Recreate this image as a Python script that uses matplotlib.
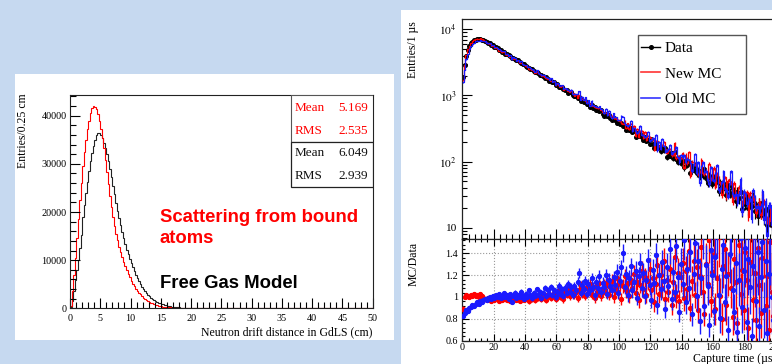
import numpy as np
import matplotlib
matplotlib.use("Agg")
import matplotlib.pyplot as plt
from matplotlib.patches import Rectangle
from matplotlib.lines import Line2D
from matplotlib.ticker import MultipleLocator, FixedLocator, FuncFormatter, LogLocator, NullFormatter

plt.rcParams['font.family'] = ['Liberation Serif', 'DejaVu Serif']
plt.rcParams['mathtext.fontset'] = 'stix'

# ---- left: neutron drift distance, entries per 0.25 cm bin (from 0 cm) ----
bin_w = 0.25
bound_atoms = [500, 3500, 7000, 10500, 14500, 18500, 22500, 26000, 29500, 32500,
               35000, 37200, 39000, 40500, 41500, 42000, 41900, 41300, 40300, 39000,
               37300, 35400, 33200, 30800, 28300, 25800, 23400, 21100, 19000, 17100,
               15500, 14100, 12800, 11650, 10600, 9650, 8750, 7900, 7100, 6400,
               5750, 5150, 4600, 4100, 3650, 3240, 2870, 2540, 2240, 1970,
               1730, 1510, 1320, 1150, 1000, 870, 755, 655, 565, 490,
               422, 363, 312, 268, 230, 197, 169, 145, 124, 106,
               91, 78, 67, 57, 49, 42, 36, 31, 26, 22,
               19, 16, 14, 12, 10, 8, 7, 6, 5, 4, 4, 3, 3, 2, 2, 2, 2, 1, 1, 1]
free_gas = [200, 1500, 3500, 5800, 7900, 10000, 12600, 15300, 19000, 21500,
            24000, 26300, 28500, 30500, 32300, 33800, 35000, 35900, 36500, 36400,
            36000, 35300, 34400, 33300, 32000, 30600, 29000, 27300, 25500, 23700,
            21900, 20200, 18700, 17200, 15800, 14500, 13300, 12200, 11200, 10300,
            9400, 8550, 7750, 7000, 6300, 5650, 5050, 4500, 4000, 3550,
            3150, 2800, 2480, 2200, 1950, 1730, 1530, 1350, 1190, 1050,
            920, 810, 710, 620, 540, 470, 410, 355, 308, 267,
            231, 200, 173, 150, 129, 111, 96, 83, 71, 61,
            52, 45, 38, 33, 28, 24, 20, 17, 14, 12, 10, 8, 7, 6, 5, 4, 3, 3, 2, 2]
stats_bound = ["5.169", "2.535"]
stats_free = ["6.049", "2.939"]

# ---- right: capture time, entries per 1 us bin (from 0 us) ----
data_counts = [1890, 2900, 4000, 4900, 5600, 6100, 6500, 6800, 7000, 7100,
               7120, 7080, 6980, 6850, 6680, 6495, 6195, 6138, 5840, 5700,
               5381, 5348, 5131, 4914, 4891, 4609, 4544, 4271, 4208, 4052,
               3961, 3704, 3719, 3551, 3394, 3391, 3196, 3130, 2957, 2993,
               2786, 2736, 2575, 2550, 2506, 2370, 2264, 2274, 2177, 2019,
               2024, 1980, 1859, 1878, 1759, 1657, 1666, 1584, 1574, 1458,
               1463, 1337, 1362, 1347, 1250, 1198, 1209, 1094, 1113, 1119,
               1019, 969, 987, 930, 942, 826, 859, 802, 818, 737,
               749, 663, 707, 650, 674, 595, 609, 577, 601, 528,
               494, 528, 490, 507, 450, 425, 452, 421, 377, 402,
               369, 389, 339, 349, 300, 335, 305, 324, 275, 287,
               237, 272, 242, 263, 234, 210, 236, 207, 212, 186,
               217, 182, 160, 182, 159, 167, 144, 165, 148, 159,
               116, 139, 123, 134, 112, 139, 111, 98, 113, 96,
               103, 82, 103, 88, 98, 68, 86, 75, 88, 67,
               73, 60, 73, 63, 76, 56, 48, 61, 57, 46,
               58, 47, 56, 36, 47, 39, 48, 40, 31, 42,
               34, 44, 30, 35, 25, 35, 28, 35, 19, 29,
               23, 30, 20, 25, 21, 29, 18, 21, 15, 23,
               18, 24, 15, 19, 11, 18, 14, 11, 18, 12]
new_mc_ratio = [0.89, 1.00, 1.02, 1.01, 1.00, 1.02, 1.01, 1.03, 1.01, 1.02,
                1.00, 1.03, 1.01, 0.99, 0.98, 0.97, 0.99, 0.98, 0.96, 0.98,
                0.97, 0.99, 0.98, 0.96, 0.98, 0.97, 1.00, 0.98, 0.97, 0.99,
                0.96, 0.98, 0.97, 1.00, 0.97, 0.99, 0.96, 0.98, 1.00, 0.97,
                0.99, 0.98, 0.96, 1.00, 0.98, 1.00, 0.97, 1.01, 0.99, 1.03,
                0.98, 1.00, 1.02, 0.97, 1.01, 1.03, 0.99, 1.01, 1.04, 0.98,
                1.02, 1.06, 1.00, 1.03, 0.98, 1.05, 1.02, 1.08, 1.01, 1.04,
                1.07, 1.02, 1.05, 0.99, 1.06, 1.10, 1.03, 1.07, 1.01, 1.09,
                1.04, 1.12, 1.02, 1.08, 0.99, 1.10, 1.05, 1.13, 1.01, 1.07,
                1.11, 1.04, 1.14, 1.02, 1.09, 1.15, 1.00, 1.08, 1.17, 1.05,
                1.12, 0.98, 1.10, 1.19, 1.06, 1.13, 1.01, 1.16, 1.08, 1.21,
                1.04, 1.14, 0.97, 1.11, 1.24, 1.07, 1.18, 1.02, 1.15, 1.26,
                1.06, 1.17, 0.95, 1.12, 1.29, 1.03, 1.20, 1.08, 1.33, 0.98,
                1.16, 1.05, 1.26, 0.93, 1.14, 1.37, 1.01, 1.22, 0.96, 1.18,
                1.31, 0.99, 1.24, 1.07, 1.42, 0.90, 1.15, 1.33, 1.02, 1.27,
                0.88, 1.19, 1.46, 1.05, 0.84, 1.30, 1.12, 1.52, 0.96, 1.23,
                1.38, 0.89, 1.17, 1.55, 1.01, 0.80, 1.28, 1.44, 0.93, 1.21,
                1.60, 1.08, 0.82, 1.35, 1.14, 0.76, 1.48, 1.03, 1.25, 0.88,
                1.41, 1.16, 0.72, 1.32, 1.57, 0.97, 1.22, 0.79, 1.45, 1.11,
                0.85, 1.36, 1.63, 0.92, 1.19, 0.70, 1.50, 1.05, 0.83, 1.29]
old_mc_ratio = [0.83, 0.85, 0.88, 0.87, 0.90, 0.91, 0.93, 0.92, 0.94, 0.95,
                0.94, 0.96, 0.95, 0.97, 0.98, 0.97, 0.99, 1.00, 0.98, 1.01,
                0.99, 1.02, 1.00, 1.03, 0.99, 1.01, 1.04, 1.00, 1.02, 0.98,
                1.03, 0.95, 1.01, 1.04, 0.99, 1.02, 1.00, 1.05, 1.01, 0.98,
                1.03, 1.00, 1.06, 1.02, 0.99, 1.04, 1.01, 1.07, 1.02, 1.05,
                0.99, 1.04, 1.08, 1.01, 1.06, 1.03, 1.09, 1.02, 1.06, 1.00,
                1.05, 1.10, 1.03, 1.07, 1.01, 1.08, 1.04, 1.12, 1.05, 1.09,
                1.02, 1.10, 1.06, 1.14, 1.22, 1.04, 1.11, 1.07, 1.15, 1.03,
                1.12, 1.06, 1.17, 1.09, 1.02, 1.14, 1.08, 1.19, 1.05, 1.13,
                1.09, 1.20, 1.03, 1.16, 1.10, 1.06, 1.18, 1.11, 1.23, 1.04,
                1.15, 1.27, 1.40, 1.09, 1.21, 1.02, 1.17, 1.28, 1.06, 1.14,
                1.24, 0.99, 1.19, 1.31, 1.08, 1.22, 1.01, 1.16, 1.34, 1.11,
                0.97, 1.25, 1.13, 1.38, 0.93, 1.20, 1.07, 1.32, 1.15, 0.89,
                1.27, 1.10, 1.44, 0.98, 1.23, 1.05, 1.47, 1.18, 0.86, 1.30,
                1.12, 1.52, 0.95, 1.26, 1.08, 1.41, 0.84, 1.21, 1.49, 1.01,
                1.33, 0.78, 1.17, 1.56, 0.92, 1.29, 1.10, 0.74, 1.43, 1.20,
                0.87, 1.37, 1.58, 1.02, 0.81, 1.26, 1.48, 0.95, 1.19, 0.70,
                1.39, 1.62, 1.06, 0.86, 1.31, 0.68, 1.16, 1.54, 0.91, 1.24,
                1.45, 0.77, 1.35, 1.09, 0.64, 1.28, 1.60, 0.96, 1.41, 0.73,
                1.18, 1.50, 0.88, 1.33, 0.67, 1.21, 1.56, 1.00, 0.79, 1.38]
legend_labels = ["Data", "New MC", "Old MC"]

W, H = 772, 364
fig = plt.figure(figsize=(W / 100, H / 100), dpi=100)
fig.patch.set_facecolor('#c6d9f0')


def fx(px):
    return px / W


def fy(py):
    return 1 - py / H


# white slide panels
fig.add_artist(Rectangle((fx(15), fy(340)), fx(394 - 15), (340 - 74) / H,
                         transform=fig.transFigure, facecolor='white', edgecolor='none', zorder=-5))
fig.add_artist(Rectangle((fx(401), fy(370)), fx(380), (370 - 10) / H,
                         transform=fig.transFigure, facecolor='white', edgecolor='none', zorder=-5))

tick_fs = 7.3
title_fs = 8.5

# ================= left histogram =================
ax1 = fig.add_axes([fx(70), fy(308.3), fx(302.7), 213.3 / H])
nbins = int(50 / bin_w)
edges = np.arange(nbins + 1) * bin_w
h_bound = np.zeros(nbins)
h_bound[:len(bound_atoms)] = bound_atoms
h_free = np.zeros(nbins)
h_free[:len(free_gas)] = free_gas
ax1.stairs(h_free, edges, color='#222222', lw=0.8)
ax1.stairs(h_bound, edges, color='#ff0000', lw=0.8)
ax1.set_xlim(0, 50)
ax1.set_ylim(0, 44300)
ax1.xaxis.set_major_locator(MultipleLocator(5))
ax1.xaxis.set_minor_locator(MultipleLocator(1))
ax1.yaxis.set_major_locator(MultipleLocator(10000))
ax1.yaxis.set_minor_locator(MultipleLocator(2000))
ax1.tick_params(which='both', direction='in', top=False, right=False, labelsize=tick_fs)
ax1.tick_params(which='major', length=7, width=0.8)
ax1.tick_params(which='minor', length=4, width=0.8)
ax1.tick_params(axis='x', pad=4)
ax1.tick_params(axis='y', pad=2.5)
for s in ax1.spines.values():
    s.set_linewidth(0.8)
    s.set_color('#222222')

# stats boxes
ax1.add_patch(Rectangle((0.730, 0.7797), 0.270, 0.2203, transform=ax1.transAxes,
                        facecolor='white', edgecolor='#555555', lw=0.8, zorder=3))
ax1.add_patch(Rectangle((0.730, 0.5687), 0.270, 0.2110, transform=ax1.transAxes,
                        facecolor='white', edgecolor='#222222', lw=0.9, zorder=3))
rows = [("Mean", stats_bound[0], '#ff0000', 0.939), ("RMS", stats_bound[1], '#ff0000', 0.831),
        ("Mean", stats_free[0], '#111111', 0.728), ("RMS", stats_free[1], '#111111', 0.620)]
for name, val, col, yy in rows:
    ax1.text(0.7433, yy, name, transform=ax1.transAxes, color=col, fontsize=9.5,
             ha='left', va='center', zorder=4)
    ax1.text(0.9855, yy, val, transform=ax1.transAxes, color=col, fontsize=9.5,
             ha='right', va='center', zorder=4)

fig.text(fx(23), fy(93), "Entries/0.25 cm", rotation=90, ha='center', va='top', fontsize=title_fs)
fig.text(fx(372.7), fy(332), "Neutron drift distance in GdLS (cm)", ha='right', va='center',
         fontsize=title_fs)

bold = dict(family=['Liberation Sans', 'DejaVu Sans'], fontweight='bold', fontsize=13.3)
fig.text(fx(160), fy(221.7), "Scattering from bound", color='#ff0000', va='baseline', **bold)
fig.text(fx(160), fy(243.3), "atoms", color='#ff0000', va='baseline', **bold)
fig.text(fx(160), fy(288.3), "Free Gas Model", color='black', va='baseline', **bold)

# ================= right: capture time =================
t = np.arange(len(data_counts)) + 0.5
D = np.array(data_counts, dtype=float)
r_new = np.array(new_mc_ratio)
r_old = np.array(old_mc_ratio)
M_new = D * r_new
M_old = D * r_old
mc_scale = 4.0  # MC has more statistics than data

ax2 = fig.add_axes([fx(462.3), fy(239.3), fx(313.5), 220 / H])
ax3 = fig.add_axes([fx(462.3), fy(340.7), fx(313.5), 101.4 / H], sharex=ax2)

ax2.errorbar(t, D, yerr=np.sqrt(D), fmt='o', ms=2.6, color='black', elinewidth=0.9,
             capsize=0, zorder=2)
ax2.errorbar(t, M_new, yerr=np.sqrt(M_new / mc_scale), fmt='none', ecolor='#ff0000',
             elinewidth=0.9, zorder=3)
ax2.step(t, M_new, where='mid', color='#ff0000', lw=0.9, zorder=3)
ax2.errorbar(t, M_old, yerr=np.sqrt(M_old / mc_scale), fmt='none', ecolor='#1a1aff',
             elinewidth=0.9, zorder=4)
ax2.step(t, M_old, where='mid', color='#1a1aff', lw=0.9, zorder=4)
ax2.set_yscale('log')
ax2.set_xlim(0, 200)
ax2.set_ylim(6.67, 14160)
ax2.yaxis.set_major_locator(LogLocator(base=10, numticks=10))
ax2.yaxis.set_minor_locator(LogLocator(base=10, subs=np.arange(2, 10), numticks=10))
ax2.yaxis.set_major_formatter(FuncFormatter(
    lambda v, p: "10" if abs(v - 10) < 1e-6 else r"$10^{%d}$" % round(np.log10(v))))
ax2.yaxis.set_minor_formatter(NullFormatter())
ax2.xaxis.set_major_locator(MultipleLocator(20))
ax2.xaxis.set_minor_locator(MultipleLocator(4))
ax2.tick_params(which='both', direction='in', top=False, right=False, labelsize=tick_fs,
                labelbottom=False)
ax2.tick_params(axis='y', labelsize=8.2, pad=4)
ax2.tick_params(which='major', length=7, width=0.8)
ax2.tick_params(which='minor', length=3.5, width=0.8)

# legend with a square ROOT-like frame
handles = [Line2D([], [], color='black', marker='o', ms=2.6, lw=1.0),
           Line2D([], [], color='#ff3333', lw=1.2),
           Line2D([], [], color='#3333ff', lw=1.2)]
ax2.add_patch(Rectangle((fx(638.3), fy(114.3)), fx(745.7 - 638.3), (114.3 - 35) / H,
                        transform=fig.transFigure, facecolor='white', edgecolor='#555555',
                        lw=1.0, zorder=8, clip_on=False))
leg = ax2.legend(handles, legend_labels, loc='upper left', bbox_to_anchor=(fx(641), fy(41.5)),
                 bbox_transform=fig.transFigure, frameon=False, fontsize=11,
                 handlelength=1.25, handletextpad=0.3, labelspacing=0.78, borderpad=0,
                 borderaxespad=0)
leg.set_zorder(9)

# ratio panel
ax3.errorbar(t, r_new, yerr=r_new * np.sqrt(1 / D + 1 / (mc_scale * M_new)), fmt='o', ms=2.8,
             color='#ff0000', elinewidth=1.0, capsize=0, zorder=3)
ax3.errorbar(t, r_old, yerr=r_old * np.sqrt(1 / D + 1 / (mc_scale * M_old)), fmt='o', ms=2.8,
             color='#1a1aff', elinewidth=1.0, capsize=0, zorder=4)
ax3.set_ylim(0.6, 1.528)
ax3.yaxis.set_major_locator(FixedLocator([0.6, 0.8, 1.0, 1.2, 1.4]))
ax3.yaxis.set_major_formatter(FuncFormatter(lambda v, p: "%g" % round(v, 1)))
ax3.yaxis.set_minor_locator(MultipleLocator(0.04))
ax3.grid(True, which='major', ls=':', color='#999999', lw=0.8)
ax3.tick_params(which='both', direction='in', top=True, right=False, labelsize=tick_fs)
ax3.tick_params(which='major', length=5, width=0.8)
ax3.tick_params(which='minor', length=2.5, width=0.8)
ax3.tick_params(axis='x', pad=1.5)
ax3.tick_params(axis='y', pad=3)
for a in (ax2, ax3):
    for s in a.spines.values():
        s.set_linewidth(0.9)
        s.set_color('#222222')

fig.text(fx(413.3), fy(21.7), "Entries/1 \u00b5s", rotation=90, ha='center', va='top', fontsize=title_fs)
fig.text(fx(413.3), fy(241.7), "MC/Data", rotation=90, ha='center', va='top', fontsize=title_fs)
fig.text(fx(775.8), fy(359), "Capture time (\u00b5s)", ha='right', va='center', fontsize=title_fs)

fig.savefig("out.png", dpi=100, facecolor=fig.get_facecolor())
